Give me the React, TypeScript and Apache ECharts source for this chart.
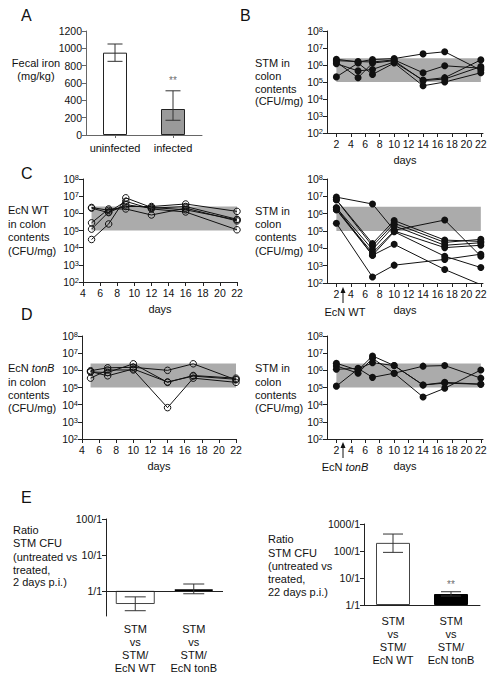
import React, { useEffect, useRef } from 'react';
import * as echarts from 'echarts';

const FONT = '"Liberation Sans", Arial, Helvetica, sans-serif';
const AX = '#222';
const TXT = '#111';

// ---------------- DATA ----------------
// Panel A: fecal iron
const ironCategories = ['uninfected', 'infected'];
const ironMean = [950, 300];
const ironLow = [850, 170];
const ironHigh = [1050, 510];
const ironStarValue = 565;

// grey band (range)
const bandLow = 1e5;
const bandHigh = 2.5e6;

const stmDayTicks = [2, 4, 6, 8, 10, 12, 14, 16, 18, 20, 22];
const logTicksLabel = (v: number) => '10{s|' + Math.round(Math.log10(v)) + '}';

// Panel B: STM alone
const daysB = [2, 5, 7, 10, 14, 17, 22];
const stmOnly = [
  [2.2e6, 1.5e6, 2.1e6, 2.4e6, 4.5e6, 6.0e6, 5.0e5],
  [1.8e6, 1.6e6, 1.5e6, 2.0e6, 3.5e5, 9.0e5, 6.5e5],
  [1.2e6, 4.5e5, 5.5e5, 1.5e6, 1.3e5, 1.8e5, 2.0e6],
  [2.0e5, 1.3e6, 2.8e5, 1.3e6, 6.0e4, 1.0e5, 3.5e5],
  [1.5e6, 1.8e5, 1.3e6, 1.8e6, 1.2e5, 1.5e5, 8.0e5],
];

// Panel C left: EcN WT
const daysC = [5, 7, 9, 12, 16, 22];
const ecnWt = [
  [2.2e6, 1.5e6, 2.5e6, 2.5e6, 3.5e6, 1.3e6],
  [2.0e6, 1.1e6, 3.2e6, 2.0e6, 2.5e6, 4.5e5],
  [2.8e5, 1.8e6, 1.8e6, 8.0e5, 2.0e6, 3.6e5],
  [1.2e5, 1.2e6, 5.0e6, 1.8e6, 1.2e6, 1.1e5],
  [3.0e4, 2.4e5, 8.0e6, 2.2e6, 1.6e6, 4.2e5],
];

// Panel C right: STM with EcN WT
const daysCR = [2, 7, 10, 17, 22];
const stmWithWt = [
  [9.0e6, 3.6e6, 1.1e5, 4.3e5, 3.5e3],
  [6.3e6, 1.9e4, 4.0e5, 3.0e4, 2.5e4],
  [6.3e6, 1.35e4, 2.8e5, 2.2e4, 3.3e4],
  [2.2e6, 8.6e3, 2.0e5, 1.5e4, 2.1e4],
  [1.7e6, 5.5e3, 1.0e5, 1.1e4, 1.5e4],
  [1.7e6, 4.0e3, 1.7e4, 6.0e2, 80],
  [2.8e5, 2.2e2, 1.07e3, 2.3e3, 4.6e3],
  [2.2e6, 4.0e3, 9.0e4, 3.5e3, 7.8e2],
];

// Panel D left: EcN tonB
const daysD = [5, 7, 10, 14, 17, 22];
const ecnTonB = [
  [9.5e5, 1.4e6, 1.5e6, 1.0e6, 2.4e6, 2.8e5],
  [8.0e5, 7.5e5, 2.4e6, 2.0e5, 5.0e5, 3.5e5],
  [3.5e5, 1.05e6, 1.05e6, 6.7e3, 3.5e5, 2.0e5],
  [8.5e5, 4.8e5, 1.2e6, 2.1e5, 4.6e5, 3.0e5],
];

// Panel D right: STM with EcN tonB
const daysDR = [2, 5, 7, 10, 14, 17, 22];
const stmWithTonB = [
  [2.6e6, 1.0e6, 6.9e6, 1.9e6, 1.4e5, 2.0e5, 1.55e5],
  [1.8e6, 6.8e5, 5.0e6, 6.8e5, 1.75e6, 1.9e6, 3.5e5],
  [1.15e6, 1.3e6, 3.9e5, 6.8e5, 2.8e4, 9.0e4, 1.05e6],
  [1.2e5, 1.2e6, 2.8e6, 1.9e6, 1.4e5, 1.8e5, 1.55e5],
];

// Panel E: ratios
const ratioCategories = ['STM\nvs\nSTM/\nEcN WT', 'STM\nvs\nSTM/\nEcN tonB'];
const ratioTickLabels = ['1/1', '10/1', '100/1', '1000/1'];
const ratioDay2 = [0.43, 1.07];
const ratioDay2Low = [0.28, 0.83];
const ratioDay2High = [0.68, 1.55];
const ratioDay22 = [200, 2.55];
const ratioDay22Low = [89, 2.15];
const ratioDay22High = [425, 3.1];
const ratioStar22 = 3.6;

// ---------------- HELPERS ----------------
const lg = (v: number) => Math.log10(v);

const labelStyle = { color: TXT, fontFamily: FONT, fontSize: 10.5 };
const nameStyle = { color: TXT, fontFamily: FONT, fontSize: 11 };

function logY(grid: number) {
  return {
    type: 'log', gridIndex: grid, min: 100, max: 1e8, logBase: 10,
    axisLine: { show: true, lineStyle: { color: AX, width: 1 } },
    axisTick: { show: true, length: 4, lineStyle: { color: AX } },
    splitLine: { show: false },
    axisLabel: {
      ...labelStyle, margin: 4, formatter: logTicksLabel,
      rich: { s: { fontSize: 7.5, fontFamily: FONT, color: TXT, verticalAlign: 'top' } },
    },
  };
}

function stmX(grid: number) {
  return {
    type: 'value', gridIndex: grid, min: 0.7, max: 22.3,
    axisLine: { show: true, onZero: false, lineStyle: { color: AX, width: 1 } },
    axisTick: { show: true, length: 4, customValues: stmDayTicks, lineStyle: { color: AX } },
    axisLabel: { ...labelStyle, margin: 5, customValues: stmDayTicks },
    splitLine: { show: false },
    name: 'days', nameLocation: 'middle', nameGap: 21, nameTextStyle: nameStyle,
  };
}

function ecnX(grid: number) {
  return {
    type: 'value', gridIndex: grid, min: 4, max: 22, interval: 2,
    axisLine: { show: true, onZero: false, lineStyle: { color: AX, width: 1 } },
    axisTick: { show: true, length: 4, lineStyle: { color: AX } },
    axisLabel: { ...labelStyle, margin: 5 },
    splitLine: { show: false },
    name: 'days', nameLocation: 'middle', nameGap: 21, nameTextStyle: nameStyle,
  };
}

function miceSeries(days: number[], mice: number[][], axis: number, filled: boolean) {
  return mice.map((vals, i) => ({
    type: 'line',
    xAxisIndex: axis, yAxisIndex: axis,
    data: vals.map((v, j) => [days[j], v]),
    symbol: 'circle',
    symbolSize: filled ? 7 : 6.5,
    showSymbol: true,
    clip: true,
    lineStyle: { color: '#111', width: 1 },
    itemStyle: filled
      ? { color: '#111' }
      : { color: 'rgba(0,0,0,0)', borderColor: '#111', borderWidth: 1 },
    z: 3,
    markArea: i === 0 ? {
      silent: true,
      itemStyle: { color: '#ababab' },
      data: [[{ xAxis: 'min', yAxis: bandLow }, { xAxis: 'max', yAxis: bandHigh }]],
    } : undefined,
  }));
}

function errorSeries(axis: number, lows: number[], highs: number[], cap: number, color: string) {
  return {
    type: 'custom', xAxisIndex: axis, yAxisIndex: axis, z: 6,
    data: lows.map((l, i) => [i, l, highs[i]]),
    encode: { x: 0, y: [1, 2] },
    renderItem: (_p: any, api: any) => {
      const lo = api.coord([api.value(0), api.value(1)]);
      const hi = api.coord([api.value(0), api.value(2)]);
      const h = cap / 2;
      const st = { stroke: color, lineWidth: 1 };
      return {
        type: 'group', children: [
          { type: 'line', shape: { x1: lo[0], y1: lo[1], x2: hi[0], y2: hi[1] }, style: st },
          { type: 'line', shape: { x1: lo[0] - h, y1: lo[1], x2: lo[0] + h, y2: lo[1] }, style: st },
          { type: 'line', shape: { x1: hi[0] - h, y1: hi[1], x2: hi[0] + h, y2: hi[1] }, style: st },
        ],
      };
    },
  };
}

function starSeries(axis: number, cat: number, value: number) {
  return {
    type: 'scatter', xAxisIndex: axis, yAxisIndex: axis, z: 6,
    color: '#444',
    data: [[cat, value]],
    symbolSize: 1,
    itemStyle: { color: 'rgba(0,0,0,0)' },
    label: {
      show: true, position: 'top', distance: 0, formatter: '{a|**}',
      color: '#444', fontSize: 10, fontFamily: FONT,
      rich: { a: { color: '#444', fontSize: 10, fontFamily: FONT } },
    },
  };
}

function txt(x: number, y: number, text: string, size = 11, align = 'left') {
  return {
    type: 'text', x, y, z: 100,
    style: { text, font: `${size}px ${FONT}`, fill: TXT, textAlign: align, textVerticalAlign: 'middle' },
  };
}

function lines(x: number, ys: number[], texts: string[], align = 'left') {
  return texts.map((t, i) => txt(x, ys[i], t, 11, align));
}

function italicTxt(x: number, y: number, plain: string, ital: string, align = 'left') {
  return {
    type: 'text', x, y, z: 100,
    style: {
      text: plain + '{i|' + ital + '}',
      fontSize: 11, fontFamily: FONT, fill: TXT, textAlign: align, textVerticalAlign: 'middle',
      rich: { i: { fontStyle: 'italic', fontSize: 11, fontFamily: FONT, fill: TXT } },
    },
  };
}

function arrow(x: number, yTip: number, yBase: number) {
  return [
    { type: 'line', shape: { x1: x, y1: yBase, x2: x, y2: yTip + 4 }, style: { stroke: '#111', lineWidth: 1 }, z: 100 },
    { type: 'polygon', shape: { points: [[x - 2.5, yTip + 6], [x, yTip], [x + 2.5, yTip + 6]] }, style: { fill: '#111' }, z: 100 },
  ];
}

function buildOption() {
  const catAxisA = {
    type: 'category', gridIndex: 0, data: ironCategories,
    axisLine: { show: true, onZero: false, lineStyle: { color: '#666' } },
    axisTick: { show: true, alignWithLabel: true, length: 3, lineStyle: { color: '#666' } },
    axisLabel: { ...labelStyle, fontSize: 11, margin: 7, interval: 0, hideOverlap: false },
  };
  const catE = (grid: number, showLine: boolean, margin: number) => ({
    type: 'category', gridIndex: grid, data: ratioCategories,
    axisLine: { show: showLine, onZero: false, lineStyle: { color: AX } },
    axisTick: { show: false },
    axisLabel: { ...labelStyle, fontSize: 11, lineHeight: 13, margin, interval: 0, hideOverlap: false },
  });

  return {
    animation: false,
    backgroundColor: '#fff',
    grid: [
      { left: 86, top: 31, width: 116, height: 104 },
      { left: 327, top: 31, width: 156, height: 102 },
      { left: 83, top: 179, width: 154, height: 103 },
      { left: 327, top: 179, width: 156, height: 104 },
      { left: 82, top: 336, width: 154, height: 103 },
      { left: 327, top: 336, width: 156, height: 103 },
      { left: 106, top: 519, width: 117, height: 97 },
      { left: 364, top: 524, width: 116, height: 81 },
    ],
    xAxis: [
      catAxisA,
      stmX(1),
      ecnX(2),
      stmX(3),
      ecnX(4),
      stmX(5),
      catE(6, false, 6),
      catE(7, true, 9),
    ],
    yAxis: [
      {
        type: 'value', gridIndex: 0, min: 0, max: 1200, interval: 200,
        axisLine: { show: true, lineStyle: { color: '#666' } },
        axisTick: { show: true, length: 4, lineStyle: { color: '#666' } },
        splitLine: { show: false },
        axisLabel: { ...labelStyle, margin: 4, formatter: (v: number) => String(v) },
      },
      logY(1), logY(2), logY(3), logY(4), logY(5),
      {
        type: 'value', gridIndex: 6, min: -0.7, max: 2,
        axisLine: { show: true, onZero: false, lineStyle: { color: AX } },
        axisTick: { show: true, length: 4, customValues: [0, 1, 2], lineStyle: { color: AX } },
        axisLabel: { ...labelStyle, margin: 4, customValues: [0, 1, 2], formatter: (v: number) => ratioTickLabels[Math.round(v)] },
        splitLine: { show: false },
      },
      {
        type: 'value', gridIndex: 7, min: 0, max: 3, interval: 1,
        axisLine: { show: true, lineStyle: { color: AX } },
        axisTick: { show: true, length: 4, lineStyle: { color: AX } },
        axisLabel: { ...labelStyle, margin: 4, formatter: (v: number) => ratioTickLabels[Math.round(v)] },
        splitLine: { show: false },
      },
    ],
    series: [
      // A
      {
        type: 'bar', xAxisIndex: 0, yAxisIndex: 0, barWidth: 24,
        data: [
          { value: ironMean[0], itemStyle: { color: '#fff' } },
          { value: ironMean[1], itemStyle: { color: '#9a9a9a' } },
        ],
        itemStyle: { borderColor: '#222', borderWidth: 1 },
      },
      errorSeries(0, ironLow, ironHigh, 15, '#333'),
      starSeries(0, 1, ironStarValue),
      // B, C, D
      ...miceSeries(daysB, stmOnly, 1, true),
      ...miceSeries(daysC, ecnWt, 2, false),
      ...miceSeries(daysCR, stmWithWt, 3, true),
      ...miceSeries(daysD, ecnTonB, 4, false),
      ...miceSeries(daysDR, stmWithTonB, 5, true),
      // E left
      {
        type: 'bar', xAxisIndex: 6, yAxisIndex: 6, barWidth: 39,
        data: [
          { value: lg(ratioDay2[0]), itemStyle: { color: '#fff', borderColor: '#444', borderWidth: 1 } },
          { value: lg(ratioDay2[1]), itemStyle: { color: '#000', borderColor: '#000', borderWidth: 2 } },
        ],
        markLine: {
          silent: true, symbol: 'none', label: { show: false },
          lineStyle: { color: AX, width: 1, type: 'solid' },
          data: [{ yAxis: 0 }],
        },
      },
      errorSeries(6, ratioDay2Low.map(lg), ratioDay2High.map(lg), 21, '#333'),
      // E right
      {
        type: 'bar', xAxisIndex: 7, yAxisIndex: 7, barWidth: 34,
        data: [
          { value: lg(ratioDay22[0]), itemStyle: { color: '#fff', borderColor: '#444', borderWidth: 1 } },
          { value: lg(ratioDay22[1]), itemStyle: { color: '#000', borderColor: '#000', borderWidth: 1 } },
        ],
      },
      errorSeries(7, ratioDay22Low.map(lg), ratioDay22High.map(lg), 20, '#333'),
      starSeries(7, 1, lg(ratioStar22)),
    ],
    graphic: [
      txt(21, 15, 'A', 16), txt(240, 15, 'B', 16), txt(21, 173, 'C', 16),
      txt(21, 314, 'D', 16), txt(21, 497, 'E', 16),
      ...lines(36, [63, 76], ['Fecal iron', '(mg/kg)'], 'center'),
      ...lines(255, [63, 76, 89, 101], ['STM in', 'colon', 'contents', '(CFU/mg)']),
      ...lines(8, [210, 224, 237, 251], ['EcN WT', 'in colon', 'contents', '(CFU/mg)']),
      ...lines(255, [211, 224, 237, 251], ['STM in', 'colon', 'contents', '(CFU/mg)']),
      italicTxt(8, 368, 'EcN ', 'tonB'),
      ...lines(8, [382, 395, 408], ['in colon', 'contents', '(CFU/mg)']),
      ...lines(255, [368, 382, 395, 408], ['STM in', 'colon', 'contents', '(CFU/mg)']),
      ...lines(13, [530, 543, 557, 570, 582], ['Ratio', 'STM CFU', '(untreated vs', 'treated,', '2 days p.i.)']),
      ...lines(268, [539, 553, 566, 579, 592], ['Ratio', 'STM CFU', '(untreated vs', 'treated,', '22 days p.i.)']),
      ...arrow(343, 287, 303),
      txt(345, 312, 'EcN WT', 11, 'center'),
      ...arrow(343, 442, 458),
      italicTxt(345, 467, 'EcN ', 'tonB', 'center'),
    ],
  };
}

export default function App() {
  const ref = useRef<HTMLDivElement>(null);
  useEffect(() => {
    const chart = echarts.init(ref.current as HTMLDivElement, null, { renderer: 'svg' });
    chart.setOption(buildOption() as any);
    return () => chart.dispose();
  }, []);
  return (
    <div
      ref={ref}
      style={{ position: 'fixed', left: 0, top: 0, width: 497, height: 680, background: '#fff' }}
    />
  );
}
